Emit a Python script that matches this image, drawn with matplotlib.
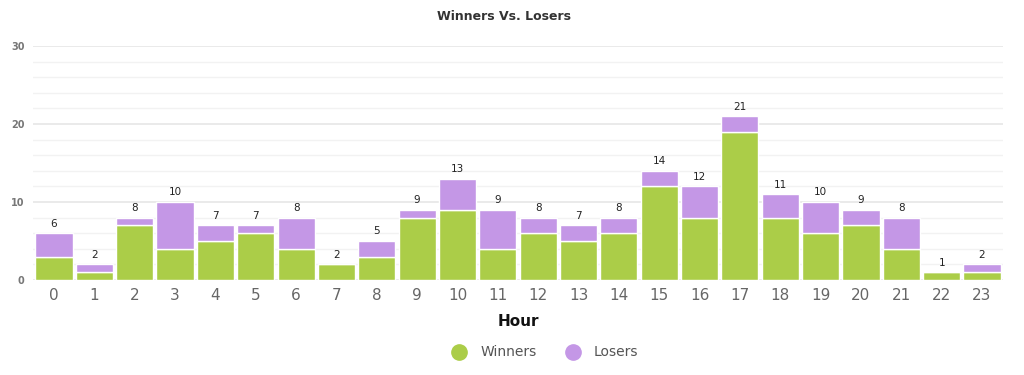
import matplotlib.pyplot as plt
from matplotlib.lines import Line2D

hours = list(range(24))
winners = [3, 1, 7, 4, 5, 6, 4, 2, 3, 8, 9, 4, 6, 5, 6, 12, 8, 19, 8, 6, 7, 4, 1, 1]
losers = [3, 1, 1, 6, 2, 1, 4, 0, 2, 1, 4, 5, 2, 2, 2, 2, 4, 2, 3, 4, 2, 4, 0, 1]

green = "#abcd48"
purple = "#c497e6"

fig = plt.figure(figsize=(10.24, 3.75), dpi=100)
ax = fig.add_axes([33 / 1024, 95 / 375, 970 / 1024, 234 / 375])

totals = [w + l for w, l in zip(winners, losers)]
ax.bar(hours, winners, width=0.92, color=green, edgecolor="white", linewidth=1, zorder=3)
ax.bar(hours, losers, bottom=winners, width=0.92, color=purple, edgecolor="white", linewidth=1, zorder=3)

for h, t in zip(hours, totals):
    ax.text(h, t + 0.6, str(t), ha="center", va="bottom", fontsize=7.5, color="#222222")

ax.set_xlim(-0.52, 23.52)
ax.set_ylim(0, 30)
ax.set_yticks([0, 10, 20, 30])
ax.set_yticks(range(0, 31, 2), minor=True)
ax.grid(axis="y", which="major", color="#e6e6e6", linewidth=1.2, zorder=0)
ax.grid(axis="y", which="minor", color="#f2f2f2", linewidth=1, zorder=0)
ax.tick_params(axis="y", which="both", length=0, labelsize=7, labelcolor="#777777", pad=6)
for lbl in ax.get_yticklabels():
    lbl.set_fontweight("bold")
ax.set_xticks(hours)
ax.tick_params(axis="x", length=0, labelsize=11, labelcolor="#666666", pad=6)
for s in ax.spines.values():
    s.set_visible(False)

ax.set_xlabel("Hour", fontsize=11, fontweight="bold", color="#111111", labelpad=8)
fig.text(0.492, 0.955, "Winners Vs. Losers", ha="center", va="center",
         fontsize=9, fontweight="bold", color="#333333")

handles = [
    Line2D([], [], marker="o", linestyle="", markersize=11, color=green, label="Winners"),
    Line2D([], [], marker="o", linestyle="", markersize=11, color=purple, label="Losers"),
]
fig.legend(handles=handles, loc="center", bbox_to_anchor=(0.529, 0.06), ncol=2, frameon=False,
           fontsize=10, labelcolor="#555555", handletextpad=0.5, columnspacing=1.6)

fig.savefig("out.png", dpi=100)
